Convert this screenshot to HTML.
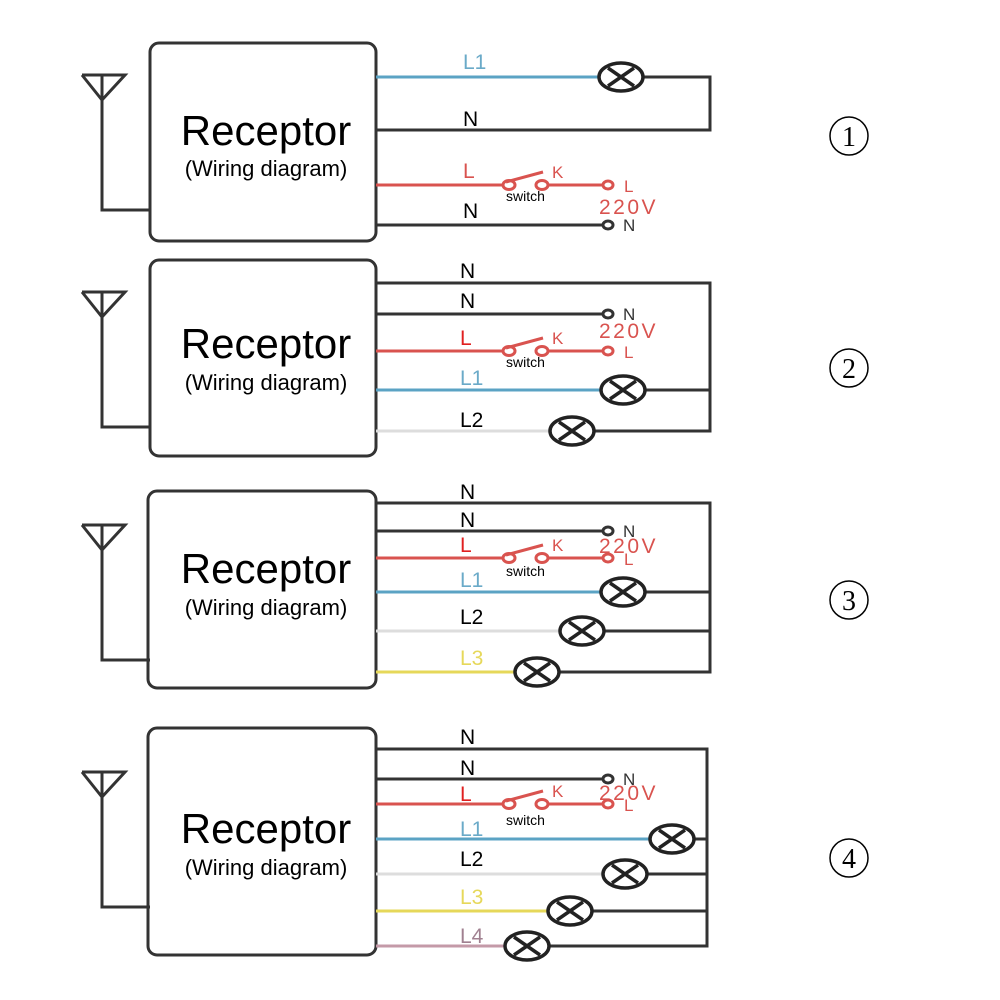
<!DOCTYPE html>
<html><head><meta charset="utf-8"><style>
html,body{margin:0;padding:0;background:#fff;}
svg{display:block;}
text{font-family:"Liberation Sans",sans-serif;}
</style></head><body>
<svg width="1000" height="1000" viewBox="0 0 1000 1000" xmlns="http://www.w3.org/2000/svg">
<defs>
<g id="lamp"><ellipse cx="0" cy="0" rx="22" ry="14" fill="#fff" stroke="#222" stroke-width="3.5"/><line x1="-13" y1="-9" x2="13" y2="9" stroke="#222" stroke-width="3.5"/><line x1="-13" y1="9" x2="13" y2="-9" stroke="#222" stroke-width="3.5"/></g>
<g id="ant" fill="none" stroke="#333" stroke-width="3"><polyline points="82,0 102,25 125,0 82,0"/><polyline points="102,0 102,135 150,135"/></g>
</defs>
<g fill="none" stroke-width="3">
<rect x="150" y="43" width="226" height="198" rx="9" stroke="#333"/>
<rect x="150" y="260" width="226" height="196" rx="9" stroke="#333"/>
<rect x="148" y="491" width="228" height="197" rx="9" stroke="#333"/>
<rect x="148" y="728" width="228" height="227" rx="9" stroke="#333"/>
</g>
<use href="#ant" transform="translate(0,75)"/>
<use href="#ant" transform="translate(0,292)"/>
<use href="#ant" transform="translate(0,525)"/>
<use href="#ant" transform="translate(0,772)"/>

<g text-anchor="middle" fill="#000">
<text x="266" y="145" font-size="42">Receptor</text><text x="266" y="176" font-size="22">(Wiring diagram)</text>
<text x="266" y="358" font-size="42">Receptor</text><text x="266" y="390" font-size="22">(Wiring diagram)</text>
<text x="266" y="583" font-size="42">Receptor</text><text x="266" y="615" font-size="22">(Wiring diagram)</text>
<text x="266" y="843" font-size="42">Receptor</text><text x="266" y="875" font-size="22">(Wiring diagram)</text>
</g>

<g fill="none" stroke-width="3">
<line x1="376" y1="77" x2="600" y2="77" stroke="#5ba3c4"/>
<polyline points="642,77 710,77 710,130 376,130" stroke="#333"/>
<line x1="376" y1="185" x2="505" y2="185" stroke="#d9534f"/>
<line x1="546" y1="185" x2="604" y2="185" stroke="#d9534f"/>
<line x1="376" y1="225" x2="604" y2="225" stroke="#333"/>
</g>
<use href="#lamp" x="621" y="77"/>
<g fill="none" stroke-width="3">
<polyline points="376,283 710,283 710,431 593,431" stroke="#333"/>
<line x1="376" y1="314" x2="604" y2="314" stroke="#333"/>
<line x1="376" y1="351" x2="505" y2="351" stroke="#d9534f"/>
<line x1="546" y1="351" x2="604" y2="351" stroke="#d9534f"/>
<line x1="376" y1="390" x2="601" y2="390" stroke="#5ba3c4"/>
<line x1="645" y1="390" x2="710" y2="390" stroke="#333"/>
<line x1="376" y1="431" x2="550" y2="431" stroke="#ddd"/>
</g>
<use href="#lamp" x="623" y="390"/><use href="#lamp" x="572" y="431"/>
<g fill="none" stroke-width="3">
<polyline points="376,503 710,503 710,672 559,672" stroke="#333"/>
<line x1="376" y1="531" x2="604" y2="531" stroke="#333"/>
<line x1="376" y1="558" x2="505" y2="558" stroke="#d9534f"/>
<line x1="546" y1="558" x2="604" y2="558" stroke="#d9534f"/>
<line x1="376" y1="592" x2="601" y2="592" stroke="#5ba3c4"/>
<line x1="645" y1="592" x2="710" y2="592" stroke="#333"/>
<line x1="376" y1="631" x2="560" y2="631" stroke="#ddd"/>
<line x1="604" y1="631" x2="710" y2="631" stroke="#333"/>
<line x1="376" y1="672" x2="515" y2="672" stroke="#e6d85a"/>
</g>
<use href="#lamp" x="623" y="592"/><use href="#lamp" x="582" y="631"/><use href="#lamp" x="537" y="672"/>
<g fill="none" stroke-width="3">
<polyline points="376,749 707,749 707,946 549,946" stroke="#333"/>
<line x1="376" y1="779" x2="604" y2="779" stroke="#333"/>
<line x1="376" y1="804" x2="505" y2="804" stroke="#d9534f"/>
<line x1="546" y1="804" x2="604" y2="804" stroke="#d9534f"/>
<line x1="376" y1="839" x2="650" y2="839" stroke="#5ba3c4"/>
<line x1="694" y1="839" x2="707" y2="839" stroke="#333"/>
<line x1="376" y1="874" x2="603" y2="874" stroke="#ddd"/>
<line x1="647" y1="874" x2="707" y2="874" stroke="#333"/>
<line x1="376" y1="911" x2="548" y2="911" stroke="#e6d85a"/>
<line x1="592" y1="911" x2="707" y2="911" stroke="#333"/>
<line x1="376" y1="946" x2="505" y2="946" stroke="#c49aa8"/>
</g>
<use href="#lamp" x="672" y="839"/><use href="#lamp" x="625" y="874"/><use href="#lamp" x="570" y="911"/><use href="#lamp" x="527" y="946"/>

<g fill="#fff" stroke="#d9534f" stroke-width="3">
<ellipse cx="509" cy="185" rx="6" ry="4.5"/><ellipse cx="542" cy="185" rx="6" ry="4.5"/><line x1="506" y1="182" x2="543" y2="172"/><ellipse cx="608" cy="185" rx="5" ry="4"/>
<ellipse cx="509" cy="351" rx="6" ry="4.5"/><ellipse cx="542" cy="351" rx="6" ry="4.5"/><line x1="506" y1="348" x2="543" y2="338"/><ellipse cx="608" cy="351" rx="5" ry="4"/>
<ellipse cx="509" cy="558" rx="6" ry="4.5"/><ellipse cx="542" cy="558" rx="6" ry="4.5"/><line x1="506" y1="555" x2="543" y2="545"/><ellipse cx="608" cy="558" rx="5" ry="4"/>
<ellipse cx="509" cy="804" rx="6" ry="4.5"/><ellipse cx="542" cy="804" rx="6" ry="4.5"/><line x1="506" y1="801" x2="543" y2="791"/><ellipse cx="608" cy="804" rx="5" ry="4"/>
</g>
<g fill="#fff" stroke="#333" stroke-width="3">
<ellipse cx="608" cy="225" rx="5" ry="4"/><ellipse cx="608" cy="314" rx="5" ry="4"/><ellipse cx="608" cy="531" rx="5" ry="4"/><ellipse cx="608" cy="779" rx="5" ry="4"/>
</g>

<g fill="#d9534f" font-size="17">
<text x="552" y="178">K</text><text x="624" y="192">L</text><text x="599" y="214" font-size="21" letter-spacing="2.5">220V</text>
<text x="552" y="344">K</text><text x="624" y="358">L</text><text x="599" y="338" font-size="21" letter-spacing="2.5">220V</text>
<text x="552" y="551">K</text><text x="624" y="565">L</text><text x="599" y="553" font-size="21" letter-spacing="2.5">220V</text>
<text x="552" y="797">K</text><text x="624" y="811">L</text><text x="599" y="800" font-size="21" letter-spacing="2.5">220V</text>
</g>
<g fill="#333" font-size="17">
<text x="623" y="231">N</text><text x="623" y="320">N</text><text x="623" y="537">N</text><text x="623" y="785">N</text>
</g>
<g fill="#000" font-size="14">
<text x="506" y="201">switch</text><text x="506" y="367">switch</text><text x="506" y="576">switch</text><text x="506" y="825">switch</text>
</g>

<g font-size="21">
<text x="463" y="69" fill="#6aaac8">L1</text><text x="463" y="126" fill="#000">N</text><text x="463" y="178" fill="#d9534f">L</text><text x="463" y="218" fill="#000">N</text>
<text x="460" y="278" fill="#000">N</text><text x="460" y="308" fill="#000">N</text><text x="460" y="345" fill="#e02020">L</text><text x="460" y="385" fill="#6aaac8">L1</text><text x="460" y="427" fill="#000">L2</text>
<text x="460" y="499" fill="#000">N</text><text x="460" y="527" fill="#000">N</text><text x="460" y="552" fill="#e02020">L</text><text x="460" y="587" fill="#6aaac8">L1</text><text x="460" y="624" fill="#000">L2</text><text x="460" y="665" fill="#e6d85a">L3</text>
<text x="460" y="744" fill="#000">N</text><text x="460" y="775" fill="#000">N</text><text x="460" y="801" fill="#e02020">L</text><text x="460" y="836" fill="#6aaac8">L1</text><text x="460" y="866" fill="#000">L2</text><text x="460" y="904" fill="#e6d85a">L3</text><text x="460" y="943" fill="#a08090">L4</text>
</g>

<g fill="none" stroke="#000" stroke-width="1.5">
<circle cx="849" cy="136" r="19"/><circle cx="849" cy="368" r="19"/><circle cx="849" cy="600" r="19"/><circle cx="849" cy="858" r="19"/>
</g>
<g font-size="28" text-anchor="middle" fill="#000">
<text x="849" y="146" style="font-family:'Liberation Serif',serif">1</text>
<text x="849" y="378" style="font-family:'Liberation Serif',serif">2</text>
<text x="849" y="610" style="font-family:'Liberation Serif',serif">3</text>
<text x="849" y="868" style="font-family:'Liberation Serif',serif">4</text>
</g>
</svg>
</body></html>
